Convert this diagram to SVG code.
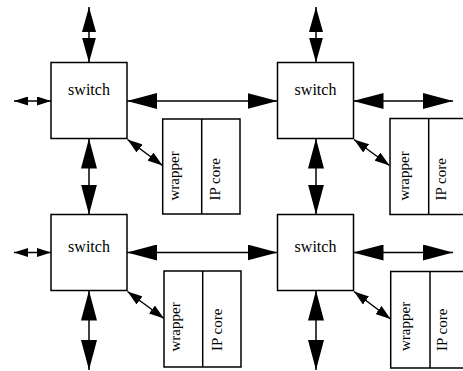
<svg xmlns="http://www.w3.org/2000/svg" width="463" height="371" viewBox="0 0 463 371">
<style>
.box{fill:#fff;stroke:#000;stroke-width:1.5}
.lbl{font-family:"Liberation Serif","Times New Roman",serif;font-size:15px;fill:#000}
.sw{font-size:16px}
.c{stroke:#000;stroke-width:1.5;fill:none}
.big{marker-start:url(#big);marker-end:url(#big)}
.mid{marker-start:url(#mid);marker-end:url(#mid)}
.sm{marker-start:url(#sm);marker-end:url(#sm)}
.dg{marker-start:url(#dg);marker-end:url(#dg)}
</style>
<defs>
<marker id="big" markerUnits="userSpaceOnUse" viewBox="0 0 30 16" refX="30" refY="8" markerWidth="30" markerHeight="16" orient="auto-start-reverse"><path d="M0,0 L30,8 L0,16 z" fill="#000"/></marker>
<marker id="mid" markerUnits="userSpaceOnUse" viewBox="0 0 25 14" refX="25" refY="7" markerWidth="25" markerHeight="14" orient="auto-start-reverse"><path d="M0,0 L25,7 L0,14 z" fill="#000"/></marker>
<marker id="sm" markerUnits="userSpaceOnUse" viewBox="0 0 14 9" refX="14" refY="4.5" markerWidth="14" markerHeight="9" orient="auto-start-reverse"><path d="M0,0 L14,4.5 L0,9 z" fill="#000"/></marker>
<marker id="dg" markerUnits="userSpaceOnUse" viewBox="0 0 15 10" refX="15" refY="5" markerWidth="15" markerHeight="10" orient="auto-start-reverse"><path d="M0,0 L15,5 L0,10 z" fill="#000"/></marker>
</defs>
<g id="connectors">
<line class="c mid" x1="89" y1="7" x2="89" y2="62.5"/>
<line class="c mid" x1="316" y1="7" x2="316" y2="62.5"/>
<line class="c sm" x1="14" y1="101" x2="51" y2="101"/>
<line class="c sm" x1="14" y1="252.5" x2="51" y2="252.5"/>
<line class="c big" x1="127" y1="101" x2="277.5" y2="101"/>
<line class="c big" x1="127" y1="252.5" x2="277.5" y2="252.5"/>
<line class="c big" x1="353.5" y1="101" x2="453" y2="101"/>
<line class="c big" x1="353.5" y1="252.5" x2="453" y2="252.5"/>
<line class="c big" x1="89" y1="138.5" x2="89" y2="214.5"/>
<line class="c big" x1="316" y1="138.5" x2="316" y2="214.5"/>
<line class="c big" x1="89" y1="290.5" x2="89" y2="370"/>
<line class="c big" x1="316" y1="290.5" x2="316" y2="370"/>
<line class="c dg" x1="127.5" y1="139.5" x2="162.5" y2="165.5"/>
<line class="c dg" x1="354" y1="139.5" x2="389.5" y2="165.5"/>
<line class="c dg" x1="127.5" y1="291.5" x2="164" y2="318.5"/>
<line class="c dg" x1="354" y1="291.5" x2="390.5" y2="319"/>
</g>
<g id="switch-tl"><rect class="box" x="51" y="62.5" width="76" height="76"/><text class="lbl sw" x="89" y="94.5" text-anchor="middle">switch</text></g>
<g id="switch-tr"><rect class="box" x="277.5" y="62.5" width="76" height="76"/><text class="lbl sw" x="315.5" y="94.5" text-anchor="middle">switch</text></g>
<g id="switch-bl"><rect class="box" x="51" y="214.5" width="76" height="76"/><text class="lbl sw" x="89" y="251.5" text-anchor="middle">switch</text></g>
<g id="switch-br"><rect class="box" x="277.5" y="214.5" width="76" height="76"/><text class="lbl sw" x="315.5" y="251.5" text-anchor="middle">switch</text></g>
<g id="core-tl"><rect class="box" x="162.7" y="119" width="77.3" height="95"/><line class="c" x1="201.7" y1="119" x2="201.7" y2="214"/>
<text class="lbl" transform="translate(178.5,200.5) rotate(-90)">wrapper</text><text class="lbl" transform="translate(220,200.5) rotate(-90)">IP core</text></g>
<g id="core-tr"><rect class="box" x="390" y="118.5" width="77" height="96"/><line class="c" x1="428.7" y1="118.5" x2="428.7" y2="214.5"/>
<text class="lbl" transform="translate(408.5,200.5) rotate(-90)">wrapper</text><text class="lbl" transform="translate(446,200.5) rotate(-90)">IP core</text></g>
<g id="core-bl"><rect class="box" x="164" y="271" width="77" height="96"/><line class="c" x1="202.7" y1="271" x2="202.7" y2="367"/>
<text class="lbl" transform="translate(180,351.5) rotate(-90)">wrapper</text><text class="lbl" transform="translate(221.5,351) rotate(-90)">IP core</text></g>
<g id="core-br"><rect class="box" x="390.7" y="271.5" width="77" height="96.5"/><line class="c" x1="430" y1="271.5" x2="430" y2="368"/>
<text class="lbl" transform="translate(410,351) rotate(-90)">wrapper</text><text class="lbl" transform="translate(446.5,351) rotate(-90)">IP core</text></g>
</svg>
